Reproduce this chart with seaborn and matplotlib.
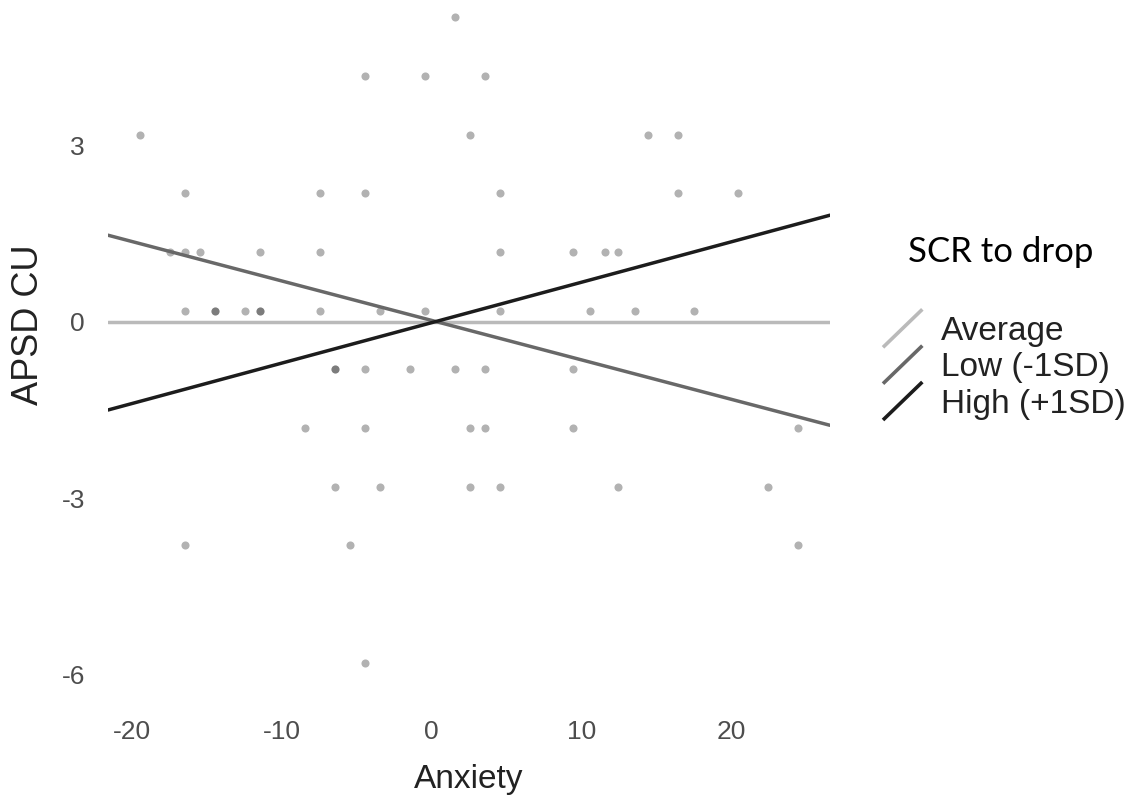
import pandas as pd
import matplotlib.pyplot as plt
import seaborn as sns
from matplotlib.lines import Line2D
from matplotlib.legend_handler import HandlerBase

# points (anxiety, APSD CU)
anxiety = [1.55,
           -4.45, -0.45, 3.55,
           -19.45, 2.55, 14.45, 16.45,
           -16.45, -7.45, -4.45, 4.55, 16.45, 20.45,
           -17.45, -16.45, -15.45, -11.45, -7.45, 4.55, 9.45, 11.55, 12.45,
           -16.45, -14.45, -14.45, -12.45, -11.45, -11.45, -7.45, -3.45, -0.45, 4.55, 10.55, 13.55, 17.55,
           -6.45, -6.45, -4.45, -1.45, 1.55, 3.55, 9.45,
           -8.45, -4.45, 2.55, 3.55, 9.45, 24.45,
           -6.45, -3.45, 2.55, 4.55, 12.45, 22.45,
           -16.45, -5.45, 24.45,
           -4.45]
apsd_cu = [5.17,
           4.17, 4.17, 4.17,
           3.18, 3.18, 3.18, 3.18,
           2.18, 2.18, 2.18, 2.18, 2.18, 2.18,
           1.18, 1.18, 1.18, 1.18, 1.18, 1.18, 1.18, 1.18, 1.18,
           0.19, 0.19, 0.19, 0.19, 0.19, 0.19, 0.19, 0.19, 0.19, 0.19, 0.19, 0.19, 0.19,
           -0.81, -0.81, -0.81, -0.81, -0.81, -0.81, -0.81,
           -1.8, -1.8, -1.8, -1.8, -1.8, -1.8,
           -2.81, -2.81, -2.81, -2.81, -2.81, -2.81,
           -3.8, -3.8, -3.8,
           -5.8]

# simple slopes (end points at the panel edges)
line_x = [-21.6, 26.6]
avg_y = [0.0, 0.0]
low_y = [1.47, -1.76]
high_y = [-1.50, 1.81]
line_names = ["Average", "Low (-1SD)", "High (+1SD)"]
line_colors = ["#bababa", "#686868", "#1c1c1c"]

x_ticks = [-20, -10, 0, 10, 20]
y_ticks = [-6, -3, 0, 3]


class DiagonalHandler(HandlerBase):
    # ggplot style abline key: a diagonal stroke
    def create_artists(self, legend, orig_handle, xdescent, ydescent,
                       width, height, fontsize, trans):
        cy = height / 2 - ydescent
        half = 0.57 * fontsize
        line = Line2D([-xdescent, -xdescent + width], [cy - half, cy + half],
                      color=orig_handle.get_color(),
                      linewidth=orig_handle.get_linewidth(),
                      solid_capstyle="butt", transform=trans)
        return [line]


sns.set_theme(style="white")
plt.rcParams["font.family"] = ["Liberation Sans", "DejaVu Sans"]
plt.rcParams["axes.unicode_minus"] = False

fig = plt.figure(figsize=(11.38, 8.05), dpi=100)
ax = fig.add_axes([108 / 1138, 108.4 / 805, 722 / 1138, 712.1 / 805])

pts = pd.DataFrame({"Anxiety": anxiety, "APSD CU": apsd_cu})
sns.scatterplot(data=pts, x="Anxiety", y="APSD CU", color="black", alpha=0.3,
                s=34, linewidth=0, ax=ax)

lines = pd.DataFrame({
    "x": line_x * 3,
    "y": avg_y + low_y + high_y,
    "group": [n for n in line_names for _ in line_x],
})
sns.lineplot(data=lines, x="x", y="y", hue="group", hue_order=line_names,
             palette=line_colors, linewidth=2.5, estimator=None, sort=False,
             legend=False, ax=ax)

ax.set_xlim(-21.6, 26.6)
ax.set_ylim(-6.37, 5.73)
ax.set_xticks(x_ticks)
ax.set_yticks(y_ticks)
ax.tick_params(length=0, labelsize=19, labelcolor="#4d4d4d", pad=16.5)
sns.despine(ax=ax, left=True, bottom=True)

ax.set_xlabel("Anxiety", fontsize=24, color="#222222")
ax.set_ylabel("APSD CU", fontsize=26, color="#222222")
ax.xaxis.set_label_coords(0.5, -0.0947)
ax.yaxis.set_label_coords(-0.0859, 0.522)

handles = [Line2D([], [], color=c, linewidth=2.6) for c in line_colors]
leg = fig.legend(handles, line_names, handler_map={Line2D: DiagonalHandler()},
                 loc="upper left", bbox_to_anchor=(883 / 1138, 1 - 316 / 805),
                 frameon=False, fontsize=24, borderpad=0, borderaxespad=0,
                 handlelength=1.18, handletextpad=0.55, labelspacing=0.16)
for t in leg.get_texts():
    t.set_color("#222222")

fig.text(1001 / 1138, 1 - 262 / 805, "SCR to drop", ha="center", va="baseline",
         fontsize=25, family=["Lato", "DejaVu Sans"], color="black")

fig.savefig("out.png", dpi=100)
